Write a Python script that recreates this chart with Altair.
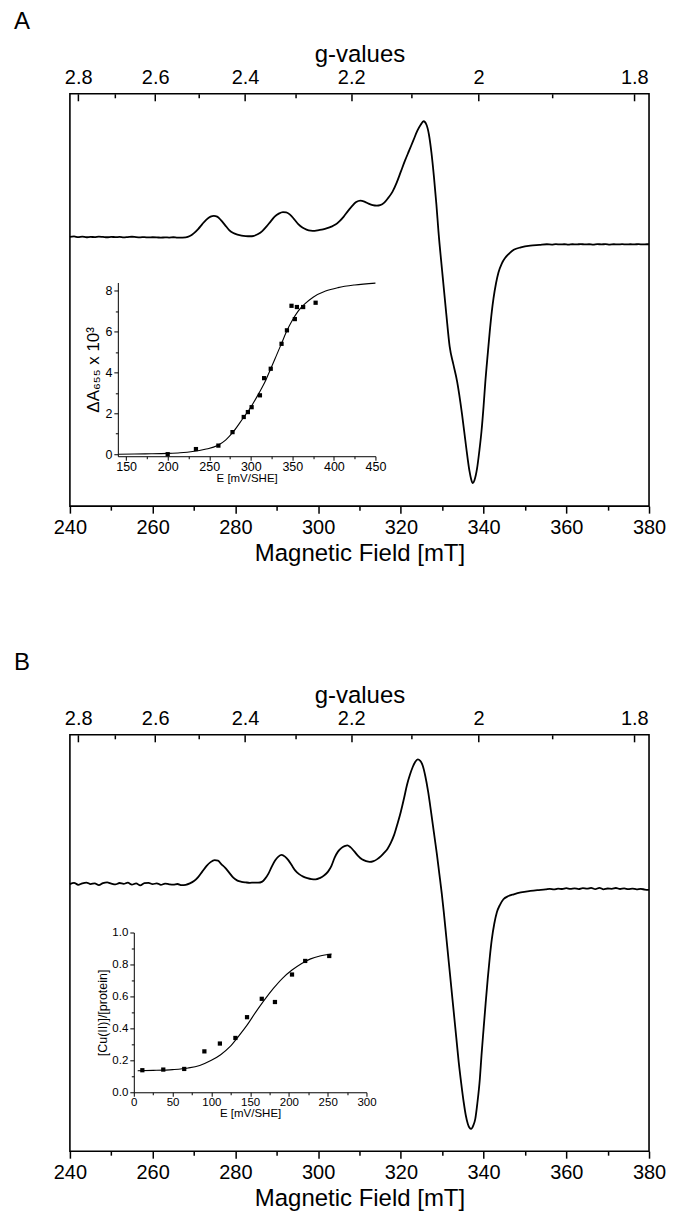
import altair as alt
import pandas as pd

FONT = "Liberation Sans"
FONT_N = "Liberation Sans Narrow, Liberation Sans"

panel_letters = ["A", "B"]

field_major = [240, 260, 280, 300, 320, 340, 360, 380]
field_minor = [250, 270, 290, 310, 330, 350, 370]
g_major = [2.8, 2.6, 2.4, 2.2, 2.0, 1.8]
g_minor = [2.7, 2.5, 2.3, 2.1, 1.9]
G_FIELD = 677.6  # g * B[mT] at the spectrometer frequency

# ---- EPR spectrum, panel A (field in mT, signal in arbitrary units)
a_field = [240, 241, 242, 243, 244, 245, 246, 247, 248, 249, 250, 251, 252, 253, 254, 255, 256, 257, 258, 259,
           260, 261, 262, 263, 264, 265, 266, 267, 268, 269, 270, 271, 272, 273, 274, 274.8, 275.6, 276.5, 277.5,
           278.5, 279.5, 280.5, 281.5, 282.5, 283.5, 284.5, 285.5, 286.5, 287.5, 288.5, 289.5, 290.5, 291.5, 292.3,
           293.2, 294.2, 295.2, 296.2, 297.2, 298.2, 299.2, 300.2, 301.2, 302.2, 303.2, 304.2, 305.2, 306.2, 307.2,
           308.2, 309.2, 310.2, 311.2, 312.2, 313.2, 314.2, 315.0, 316.0, 317.0, 318.0, 319.0, 320.0, 321.0, 322.0,
           323.0, 324.0, 324.8, 325.5, 326.2, 326.8, 327.4, 328.0, 328.6, 329.1, 330.0, 331.0, 331.8, 332.7, 333.6,
           334.8, 335.8, 336.6, 337.0, 337.4, 337.8, 338.4, 339.0, 339.5, 340.0, 340.4, 341.0, 341.5, 342.0, 342.4,
           343.0, 343.6, 344.4, 345.2, 346.3, 347.3, 349.0, 351.3, 353.5, 355.3, 356.5, 357.5, 358.5, 359.5, 360.5,
           361.5, 362.5, 363.5, 364.5, 365.5, 366.5, 367.5, 368.5, 369.5, 370.5, 371.5, 372.5, 373.5, 374.5, 375.5,
           376.5, 377.5, 378.5, 379.5, 380.0]
a_signal = [-0.3, 0.1, -0.5, -0.1, -0.7, -0.3, -0.6, -0.1, -0.4, -0.7, -0.3, -0.6, -0.4, -0.8, -0.5, -0.2, -0.6,
            -0.8, -0.5, -0.9, -0.7, -0.8, -1.1, -0.8, -1.0, -0.7, -1.1, -1.0, -0.8, 0.5, 3.5, 7.5, 12.5, 17.0, 20.0,
            20.8, 20.0, 16.5, 11.5, 6.5, 3.5, 2.0, 1.0, 0.5, 0.3, 0.8, 2.5, 5.5, 10.0, 15.0, 20.0, 23.0, 24.5, 24.3,
            22.0, 17.5, 12.5, 9.0, 7.0, 6.0, 5.8, 6.5, 7.3, 8.5, 10.0, 12.0, 15.5, 20.0, 25.5, 30.5, 34.5, 36.0, 35.0,
            33.0, 31.5, 31.0, 31.5, 34.0, 39.0, 45.0, 54.0, 65.0, 76.0, 86.0, 96.0, 106.0, 112.0, 115.5, 112.0,
            102.0, 84.0, 60.0, 32.0, 5.0, -35.0, -78.0, -110.0, -128.0, -145.0, -178.0, -211.0, -235.0, -243.0,
            -247.0, -244.0, -233.0, -214.0, -195.0, -170.0, -147.0, -118.0, -95.0, -75.0, -62.0, -47.0, -36.0,
            -27.0, -21.5, -16.5, -13.3, -10.8, -9.0, -8.3, -7.7, -8.0, -7.6, -7.9, -7.7, -8.1, -7.7, -7.9, -7.5,
            -7.9, -7.7, -8.1, -7.6, -7.8, -7.6, -8.0, -7.7, -7.9, -7.6, -7.9, -7.7, -7.8, -7.6, -7.9, -7.7, -7.7]

# ---- EPR spectrum, panel B
b_field = [240, 241, 242, 243, 244, 245, 246, 247, 248, 249, 250, 251, 252, 253, 254, 255, 256, 257, 258, 259,
           260, 261, 262, 263, 264, 265, 266, 267, 268, 269, 270, 271, 272, 273, 274, 275, 275.8, 276.6, 277.5,
           278.5, 279.5, 280.5, 281.5, 282.5, 283.5, 284.5, 285.5, 286.5, 287.2, 288.0, 288.8, 289.6, 290.4, 291.2,
           292.0, 292.8, 293.6, 294.5, 295.4, 296.4, 297.4, 298.4, 299.4, 300.4, 301.4, 302.4, 303.2, 304.0, 304.8,
           305.6, 306.4, 307.1, 307.8, 308.7, 309.6, 310.6, 311.6, 312.5, 313.4, 314.3, 315.2, 316.0, 316.8, 317.6,
           318.4, 319.2, 320.0, 320.8, 321.5, 322.2, 322.9, 323.5, 324.1, 324.7, 325.3, 325.9, 326.6, 327.3, 328.0,
           328.7, 329.3, 329.9, 330.4, 331.0, 331.6, 332.2, 332.8, 333.4, 334.0, 334.6, 335.2, 335.7, 336.2, 336.6,
           337.0, 337.5, 338.0, 338.5, 339.1, 339.5, 340.0, 340.5, 341.0, 341.5, 342.0, 342.6, 343.2, 344.0, 344.8,
           346.0, 347.3, 349.0, 351.3, 353.0, 355.0, 356.0, 357.0, 358.0, 359.0, 360.0, 361.0, 362.0, 363.0, 364.0,
           365.0, 366.0, 367.0, 368.0, 369.0, 370.0, 371.0, 372.0, 373.0, 374.0, 375.0, 376.0, 377.0, 378.0, 379.0,
           380.0]
b_signal = [-0.5, 0.8, -1.2, 0.3, 1.0, -0.5, 0.2, -1.5, 0.5, 1.2, 0.0, -0.8, 0.6, -0.3, 0.9, -1.0, 0.2, -1.8, 0.4,
            0.8, -0.6, 0.3, -1.3, 0.0, -0.7, -1.1, -0.4, -1.6, -1.2, 0.2, 2.5, 6.5, 12.0, 17.5, 21.5, 23.5, 23.0,
            19.5, 16.0, 11.0, 6.0, 3.0, 1.8, 1.2, 0.8, 1.0, 0.9, 2.0, 5.0, 10.0, 17.0, 23.0, 27.0, 28.7, 27.0, 23.5,
            18.5, 13.0, 9.5, 7.0, 5.5, 4.5, 4.2, 5.5, 8.0, 12.0, 17.5, 26.0, 32.0, 35.5, 37.5, 38.3, 36.5, 32.5,
            28.0, 24.3, 22.5, 21.7, 22.5, 24.5, 27.5, 31.0, 35.0, 41.0, 49.0, 60.0, 72.0, 86.0, 99.0, 109.0, 117.0,
            122.0, 124.3, 123.0, 118.0, 108.0, 92.0, 72.0, 51.0, 30.0, 10.0, -10.0, -29.0, -54.0, -79.0, -104.0,
            -129.0, -154.0, -179.0, -200.0, -219.0, -232.0, -240.7, -244.5, -245.7, -242.5, -235.7, -220.0, -195.7,
            -172.0, -145.7, -120.0, -95.7, -74.0, -55.7, -40.0, -29.0, -21.0, -15.7, -12.5, -10.7, -8.8, -7.3, -6.5,
            -5.8, -5.2, -5.9, -5.0, -5.4, -4.6, -5.3, -4.8, -5.5, -4.5, -5.1, -4.3, -5.6, -4.2, -5.7, -4.9, -5.2,
            -4.4, -5.4, -4.8, -5.6, -5.0, -5.8, -5.3, -6.0, -6.3]

# ---- Inset A: redox titration (Delta A655 x 10^3 vs E)
a_pot = [200, 234, 261, 278, 291.5, 296.5, 301, 311, 316, 324, 337, 343.5, 349, 353, 355.5, 363, 378]
a_dA = [0.0, 0.25, 0.42, 1.08, 1.82, 2.06, 2.3, 2.88, 3.72, 4.18, 5.4, 6.06, 7.26, 6.61, 7.2, 7.2, 7.41]
a_fit_pot = [141, 160, 180, 200, 215, 230, 245, 260, 270, 280, 290, 300, 310, 318, 324, 330, 337, 343, 350, 357,
             365, 375, 390, 405, 425, 450]
a_fit_dA = [0.0, 0.01, 0.02, 0.04, 0.07, 0.13, 0.24, 0.42, 0.7, 1.15, 1.72, 2.3, 3.0, 3.62, 4.18, 4.75, 5.42, 6.0,
            6.55, 7.0, 7.35, 7.68, 7.98, 8.15, 8.28, 8.37]

# ---- Inset B: [Cu(II)]/[protein] vs E
b_pot = [11, 38, 65, 91, 111, 131, 146, 165, 182, 204, 221, 252]
b_cu = [0.138, 0.142, 0.146, 0.256, 0.305, 0.34, 0.47, 0.585, 0.565, 0.737, 0.822, 0.853]
b_fit_pot = [5, 25, 50, 70, 85, 100, 112, 124, 135, 146, 157, 168, 180, 192, 204, 216, 228, 240, 255]
b_fit_cu = [0.135, 0.137, 0.142, 0.152, 0.168, 0.2, 0.235, 0.285, 0.35, 0.42, 0.5, 0.575, 0.65, 0.715, 0.765,
            0.805, 0.835, 0.853, 0.866]

W = 580
H_A = 413
H_B = 417


def main_group(letter, field, signal, ydom):
    df = pd.DataFrame({"field": field, "signal": signal})
    xs = alt.Scale(domain=[240, 380], nice=False, zero=False)
    ys = alt.Scale(domain=ydom, nice=False, zero=False)
    y_enc = alt.Y("signal:Q", scale=ys, axis=None)
    line = alt.Chart(df).mark_line(color="black", strokeWidth=1.8, interpolate="monotone").encode(
        x=alt.X("field:Q", scale=xs, axis=alt.Axis(
            orient="bottom", values=field_major, tickSize=7, tickWidth=1.5, domain=False,
            labelFontSize=20, labelPadding=4, title="Magnetic Field [mT]", titleFontSize=24,
            titlePadding=4)),
        y=y_enc)
    bottom_minor = alt.Chart(df).mark_line(opacity=0).encode(
        x=alt.X("field:Q", scale=xs, axis=alt.Axis(
            orient="bottom", values=field_minor, tickSize=4, tickWidth=1.5, domain=False,
            labels=False, title=None)),
        y=y_enc)
    top_major = alt.Chart(df).mark_line(opacity=0).encode(
        x=alt.X("field:Q", scale=xs, axis=alt.Axis(
            orient="top", values=[G_FIELD / g for g in g_major],
            labelExpr="'' + round(%s / datum.value) / 10" % (G_FIELD * 10),
            tickSize=7, tickWidth=1.5, offset=-7, domain=False,
            labelFontSize=20, labelPadding=6, title="g-values", titleFontSize=24, titlePadding=1)),
        y=y_enc)
    top_minor = alt.Chart(df).mark_line(opacity=0).encode(
        x=alt.X("field:Q", scale=xs, axis=alt.Axis(
            orient="top", values=[G_FIELD / g for g in g_minor], tickSize=4, tickWidth=1.5,
            offset=-4, domain=False, labels=False, title=None)),
        y=y_enc)
    tag = alt.Chart(pd.DataFrame({"t": [letter]})).mark_text(
        align="left", baseline="top", fontSize=24, font=FONT, color="black").encode(
        x=alt.value(-56), y=alt.value(-84), text="t:N")
    return alt.layer(line, bottom_minor, top_major, top_minor, tag).resolve_axis(x="independent")


def inset_group(pts_x, pts_y, fit_x, fit_y, xdom, xrange, ydom, yrange, xmaj, xmin, ymaj, ymin,
                ytitle, yfmt, xoff, yoff, lab, xtfs, ytfs):
    fit_df = pd.DataFrame({"E": fit_x, "v": fit_y})
    pts_df = pd.DataFrame({"E": pts_x, "v": pts_y})
    xs = alt.Scale(domain=xdom, range=xrange, nice=False, zero=False)
    ys = alt.Scale(domain=ydom, range=yrange, nice=False, zero=False)
    fit = alt.Chart(fit_df).mark_line(color="black", strokeWidth=1.1, interpolate="monotone").encode(
        x=alt.X("E:Q", scale=xs, axis=alt.Axis(
            orient="bottom", offset=xoff, values=xmaj, tickSize=4, tickWidth=1, domainWidth=1,
            labelFont=FONT_N, titleFont=FONT_N,
            labelFontSize=lab, labelPadding=0, title="E [mV/SHE]", titleFontSize=xtfs, titlePadding=0)),
        y=alt.Y("v:Q", scale=ys, axis=alt.Axis(
            orient="left", offset=yoff, values=ymaj, tickSize=4, tickWidth=1, domainWidth=1,
            labelFont=FONT_N, titleFont=FONT_N,
            labelFontSize=lab, labelPadding=2, format=yfmt, title=ytitle, titleFontSize=ytfs,
            titlePadding=2)))
    pts = alt.Chart(pts_df).mark_square(size=18, color="black", opacity=1).encode(
        x=alt.X("E:Q", scale=xs, axis=None), y=alt.Y("v:Q", scale=ys, axis=None))
    minor = alt.Chart(fit_df).mark_line(opacity=0).encode(
        x=alt.X("E:Q", scale=xs, axis=alt.Axis(
            orient="bottom", offset=xoff, values=xmin, tickSize=2.5, tickWidth=1,
            labels=False, domain=False, title=None)),
        y=alt.Y("v:Q", scale=ys, axis=alt.Axis(
            orient="left", offset=yoff, values=ymin, tickSize=2.5, tickWidth=1,
            labels=False, domain=False, title=None)))
    return alt.layer(fit, pts, minor).resolve_axis(x="independent", y="independent")


mainA = main_group(panel_letters[0], a_field, a_signal, [-270, 143])
insetA = inset_group(a_pot, a_dA, a_fit_pot, a_fit_dA, [140, 450], [48, 306], [-0.1, 8.4], [363, 189],
                     [150, 200, 250, 300, 350, 400, 450], [175, 225, 275, 325, 375, 425],
                     [0, 2, 4, 6, 8], [1, 3, 5, 7], "ΔA₆₅₅ x 10³", "d", -50, -48, 12.5, 11.5, 17)
panelA = alt.layer(mainA, insetA).resolve_scale(x="independent", y="independent").properties(
    width=W, height=H_A)

mainB = main_group(panel_letters[1], b_field, b_signal, [-268, 149])
insetB = inset_group(b_pot, b_cu, b_fit_pot, b_fit_cu, [0, 300], [64, 297], [0, 1.0], [358, 198],
                     [0, 50, 100, 150, 200, 250, 300], [25, 75, 125, 175, 225, 275],
                     [0, 0.2, 0.4, 0.6, 0.8, 1.0], [0.1, 0.3, 0.5, 0.7, 0.9],
                     "[Cu(II)]/[protein]", ".1f", -59, -64, 11.5, 11.5, 12.5)
panelB = alt.layer(mainB, insetB).resolve_scale(x="independent", y="independent").properties(
    width=W, height=H_B)

chart = alt.vconcat(panelA, panelB, spacing=84).properties(
    padding={"left": 5, "top": 0, "right": 0, "bottom": 0}
).configure_view(stroke="black", strokeWidth=1.6).configure_axis(
    labelFont=FONT, titleFont=FONT, labelColor="black", titleColor="black", tickColor="black",
    domainColor="black", grid=False, labelFlush=False, labelOverlap=False, titleFontWeight="normal"
).configure_text(font=FONT)

chart.save("out.html", embed_options={"renderer": "svg", "actions": False})
